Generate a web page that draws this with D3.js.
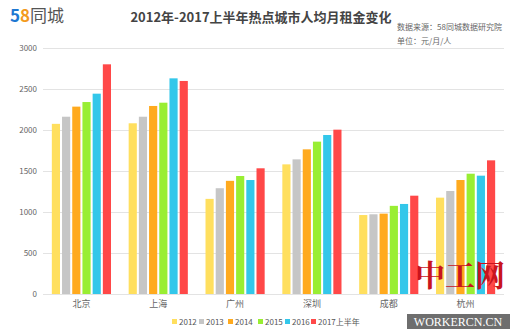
<!DOCTYPE html>
<html><head><meta charset="utf-8">
<script src="https://cdn.jsdelivr.net/npm/d3@7"></script>
<style>body{margin:0;background:#fff}svg{display:block}</style>
</head><body>
<svg id="c" width="520" height="331"></svg>
<script>
const cities = ["北京","上海","广州","深圳","成都","杭州"];
const years = ["2012","2013","2014","2015","2016","2017上半年"];
const colors = ["#FFDF5E","#C6C6C6","#FFAA1E","#99EE33","#33C7EA","#FF4848"];
const v2012 = [2075,2082,1160,1581,963,1175];
const v2013 = [2162,2162,1290,1642,972,1256];
const v2014 = [2285,2293,1380,1764,980,1390];
const v2015 = [2341,2333,1439,1858,1075,1467];
const v2016 = [2443,2630,1390,1939,1098,1443];
const v2017 = [2801,2598,1533,2004,1199,1630];
const series = [v2012,v2013,v2014,v2015,v2016,v2017];
const yTicks = [0,500,1000,1500,2000,2500,3000];

const svg = d3.select("#c");
const font = "'Noto Sans CJK SC','Microsoft YaHei',sans-serif";
const L = 43, R = 504, T = 48, B = 294;

const x = d3.scaleBand().domain(cities).range([L,R]).paddingInner(0.23).paddingOuter(0.115);
const xs = d3.scaleBand().domain(years).range([0,x.bandwidth()]).paddingInner(0.2);
const y = d3.scaleLinear().domain([0,3000]).range([B,T]);

// grid
svg.append("g").selectAll("line").data(yTicks).join("line")
  .attr("x1",L).attr("x2",R).attr("y1",d=>y(d)+0.5).attr("y2",d=>y(d)+0.5)
  .attr("stroke","#e3e3e3").attr("stroke-width",1);

// y axis labels
const ya = svg.append("g").attr("transform",`translate(${L-6},0)`)
  .call(d3.axisLeft(y).tickValues(yTicks).tickFormat(d3.format("d")).tickSize(0).tickPadding(0));
ya.select(".domain").remove();
ya.selectAll("text").attr("fill","#666").style("font-size","8px").style("font-family",font);

// bars
const g = svg.append("g");
cities.forEach((c,i)=>{
  series.forEach((s,j)=>{
    g.append("rect")
      .attr("x",x(c)+xs(years[j])).attr("width",xs.bandwidth())
      .attr("y",y(s[i])).attr("height",B-y(s[i]))
      .attr("fill",colors[j]);
  });
});

// x axis labels
const xa = svg.append("g").attr("transform",`translate(0,${B})`)
  .call(d3.axisBottom(x).tickSize(0).tickPadding(7));
xa.select(".domain").remove();
xa.selectAll("text").attr("fill","#666").style("font-size","9px").style("font-family",font);

// title
svg.append("text").attr("x",261).attr("y",22).attr("text-anchor","middle")
  .attr("fill","#444").style("font-size","13px").style("font-weight","bold").style("font-family",font)
  .text("2012年-2017上半年热点城市人均月租金变化");
svg.append("text").attr("x",397).attr("y",30).attr("fill","#666").style("font-size","8px").style("font-family",font)
  .text("数据来源：58同城数据研究院");
svg.append("text").attr("x",397).attr("y",44).attr("fill","#666").style("font-size","8px").style("font-family",font)
  .text("单位：元/月/人");

// logo
const logo = svg.append("text").attr("x",10).attr("y",22).style("font-size","17px").style("font-family",font);
logo.append("tspan").attr("fill","#1E78D2").style("font-weight","bold").text("5");
logo.append("tspan").attr("fill","#F39A1E").style("font-weight","bold").text("8");
logo.append("tspan").attr("fill","#555").text("同城");

// legend
const lx = [172,199,228,258,285,311];
const lg = svg.append("g");
years.forEach((yr,j)=>{
  lg.append("rect").attr("x",lx[j]).attr("y",319).attr("width",5).attr("height",5).attr("fill",colors[j]);
  lg.append("text").attr("x",lx[j]+7).attr("y",325).attr("fill","#555")
    .style("font-size","8px").style("font-family",font).text(yr);
});

// watermark
svg.append("text").attr("x",460).attr("y",286).attr("text-anchor","middle")
  .attr("fill","#C8141E").style("font-size","30px").style("font-weight","bold")
  .style("font-family","'Noto Serif CJK SC','Noto Sans CJK SC',serif").text("中工网");
svg.append("rect").attr("x",407).attr("y",314).attr("width",103).attr("height",15).attr("fill","#6e6e6e");
svg.append("text").attr("x",458).attr("y",326).attr("text-anchor","middle").attr("fill","#fff")
  .style("font-size","12px").style("font-family","'Liberation Serif',serif").text("WORKERCN.CN");
</script>
</body></html>
